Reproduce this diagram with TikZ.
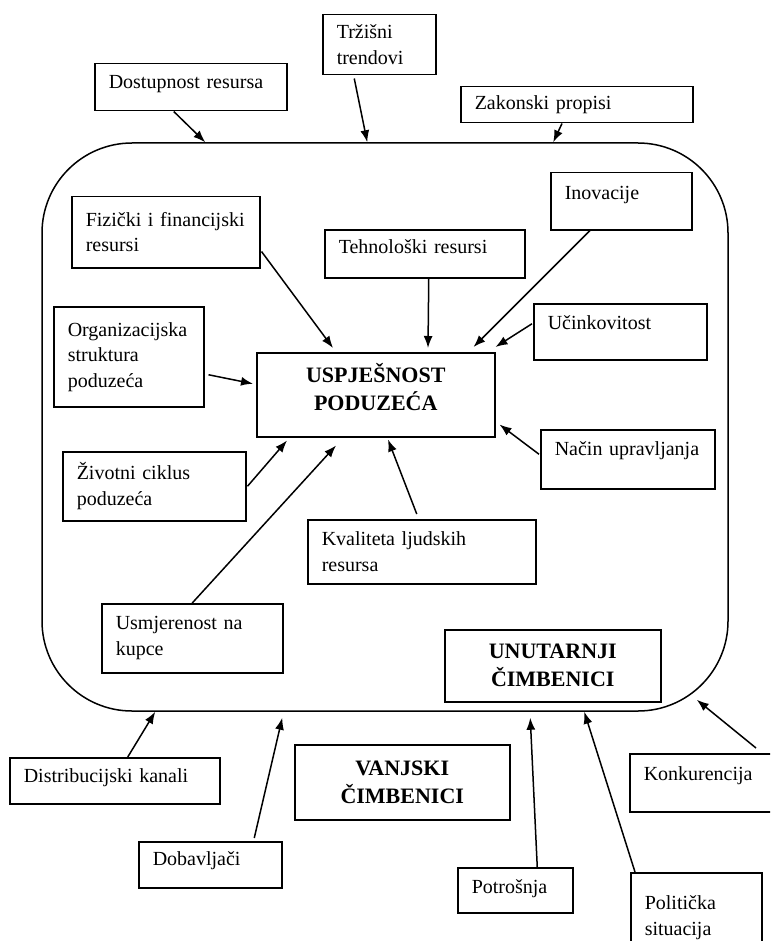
\documentclass[tikz,border=0pt]{standalone}
\usepackage{fontspec}
\setmainfont{Liberation Serif}
\usetikzlibrary{arrows.meta,calc}
\tikzset{
  box/.style={draw, line width=1.5pt, anchor=north west, align=left,
    inner xsep=14pt, inner ysep=0pt, font=\fontsize{20}{25.5}\selectfont},
  title/.style={draw, line width=1.5pt, anchor=north west, align=center,
    inner sep=0pt, font=\fontsize{22}{28}\selectfont\bfseries},
  up/.style={text height=14pt, text depth=#1},
}
\begin{document}
\begin{tikzpicture}[x=1pt,y=-1pt]
      \path[use as bounding box] (0,0) rectangle (770,941);
      \clip (0,0) rectangle (770,941);
      \node[draw, line width=1.5pt, rounded corners=90pt, minimum width=686pt,
        minimum height=568pt] (env) at (385,427) {};
      \node[box, text width=85, minimum height=60] (trz) at (322,14) {Tržišni\\trendovi};
      \node[box, up=11pt, text width=164, minimum height=47] (dost) at (94,63) {Dostupnost resursa};
      \node[box, text width=204, minimum height=36] (zak) at (460,86) {Zakonski propisi};
      \node[box, text width=160, minimum height=71] (fiz) at (71,196) {Fizički i financijski\\resursi};
      \node[box, up=14pt, text width=172, minimum height=48] (teh) at (324,229) {Tehnološki resursi};
      \node[box, up=17pt, text width=113, minimum height=57] (ino) at (550,172) {Inovacije};
      \node[box, text width=122, minimum height=100] (org) at (53,306) {Organizacijska\\struktura\\poduzeća};
      \node[box, up=19pt, text width=145, minimum height=56] (uci) at (533,303) {Učinkovitost};
      \node[title, text depth=16pt, minimum width=238, minimum height=84] (usp) at (256,352) {USPJEŠNOST\\PODUZEĆA};
      \node[box, up=21pt, text width=146, minimum height=59] (nac) at (540,429) {Način upravljanja};
      \node[box, text width=155, minimum height=69] (ziv) at (62,451) {Životni ciklus\\poduzeća};
      \node[box, text width=200, minimum height=64] (kva) at (307,519) {Kvaliteta ljudskih\\resursa};
      \node[box, text width=153, minimum height=69] (usm) at (101,603) {Usmjerenost na\\kupce};
      \node[title, minimum width=216, minimum height=72] (unu) at (444,629) {UNUTARNJI\\ČIMBENICI};
      \node[box, up=10pt, text width=182, minimum height=46] (dis) at (9,757) {Distribucijski kanali};
      \node[title, minimum width=215, minimum height=75] (van) at (294,744) {VANJSKI\\ČIMBENICI};
      \node[box, up=19pt, text width=142, minimum height=58] (kon) at (629,753) {Konkurencija};
      \node[box, up=13pt, text width=115, minimum height=46] (dob) at (138,841) {Dobavljači};
      \node[box, up=8pt, text width=87, minimum height=45] (pot) at (457,867) {Potrošnja};
      \node[box, text width=103, minimum height=90] (pol) at (630,872) {Politička\\situacija};
      \begin{scope}[-{Latex[length=12pt,width=9pt]}, line width=1.5pt]
        \draw ($(dost.south)+(-17,0)$) -- ($(env.north west)+(164,0)$);
        \draw ($(trz.south)+(-25,3)$) -- ($(env.north west)+(326,0)$);
        \draw ($(zak.south west)+(102,0)$) -- ($(env.north west)+(512,0)$);
        \draw ($(fiz.south east)+(1,-17)$) -- ($(usp.north west)+(77,-4)$);
        \draw ($(teh.south)+(4,0)$) -- ($(usp.north west)+(172,-4)$);
        \draw ($(ino.south west)+(40,0)$) -- ($(usp.north east)+(-22,-5)$);
        \draw ($(uci.west)+(-1,-8)$) -- ($(usp.north east)+(0,-5)$);
        \draw ($(org.east)+(4,18)$) -- ($(usp.west)+(-3,-11)$);
        \draw ($(nac.west)+(-1,-5)$) -- ($(usp.south east)+(4,-13)$);
        \draw ($(ziv.east)+(1,0)$) -- ($(usp.south west)+(31,3)$);
        \draw (usm.north) -- ($(usp.south west)+(80,8)$);
        \draw ($(kva.north)+(-5,-5)$) -- ($(usp.south west)+(132,2)$);
        \draw ($(dis.north)+(13,0)$) -- ($(env.south west)+(114,0)$);
        \draw ($(dob.north)+(44,-3)$) -- ($(env.south west)+(241,6)$);
        \draw ($(pot.north)+(22,0)$) -- ($(env.south west)+(489,6)$);
        \draw ($(pol.north west)+(5,0)$) -- ($(env.south west)+(543,0)$);
        \draw ($(kon.north west)+(127,-5)$) -- ($(env.south east)+(-32,-12)$);
      \end{scope}
    \end{tikzpicture}
\end{document}
